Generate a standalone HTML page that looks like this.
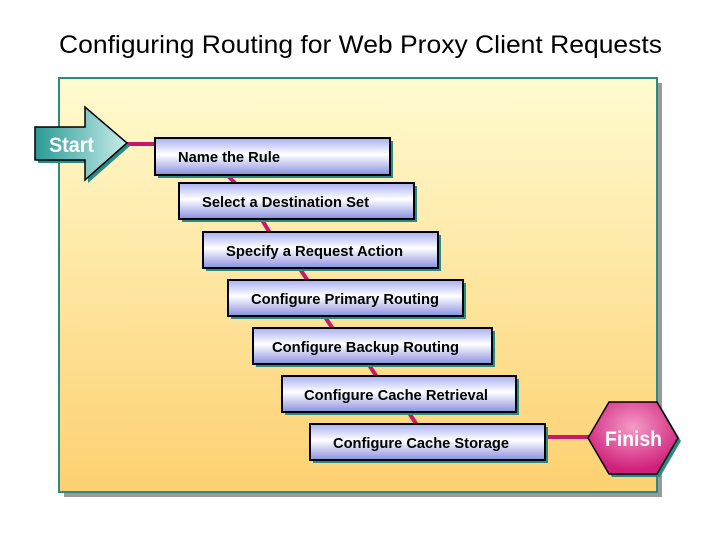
<!DOCTYPE html>
<html><head><style>body{margin:0;background:#fff}svg{display:block}</style></head><body>
<svg width="720" height="540" xmlns="http://www.w3.org/2000/svg" font-family="Liberation Sans, Arial, sans-serif">
<defs>
<linearGradient id="bg" x1="0" y1="0" x2="0" y2="1"><stop offset="0" stop-color="#fffbd0"/><stop offset="1" stop-color="#fdd070"/></linearGradient>
<linearGradient id="bx" x1="0" y1="0" x2="0" y2="1"><stop offset="0" stop-color="#a8aef0"/><stop offset="0.45" stop-color="#ffffff"/><stop offset="1" stop-color="#8890e0"/></linearGradient>
<linearGradient id="st" x1="0" y1="0" x2="1" y2="0"><stop offset="0" stop-color="#2a9a96"/><stop offset="1" stop-color="#c8ecea"/></linearGradient>
<radialGradient id="fn" cx="0.5" cy="0.35" r="0.6"><stop offset="0" stop-color="#f49cc8"/><stop offset="1" stop-color="#d0207a"/></radialGradient>
</defs>
<text x="59" y="53" font-size="25" fill="#000" textLength="603" lengthAdjust="spacingAndGlyphs">Configuring Routing for Web Proxy Client Requests</text>
<rect x="64" y="83" width="598" height="414" fill="#999"/>
<rect x="59" y="78" width="598" height="414" fill="url(#bg)" stroke="#2a8a86" stroke-width="2"/>
<g stroke="#c8186e" stroke-width="4">
<line x1="125" y1="144" x2="158" y2="144"/>
<line x1="228" y1="176" x2="236" y2="184"/>
<line x1="262" y1="220" x2="270" y2="233"/>
<line x1="300" y1="269" x2="308" y2="281"/>
<line x1="325" y1="317" x2="333" y2="329"/>
<line x1="369" y1="365" x2="377" y2="377"/>
<line x1="409" y1="413" x2="417" y2="425"/>
<line x1="545" y1="437" x2="590" y2="437"/>
</g>
<g>
<polygon points="38,130 88,130 88,110 130,146 88,183 88,163 38,163" fill="#2a8a86"/>
<polygon points="35,127 85,127 85,107 127,143 85,180 85,160 35,160" fill="url(#st)" stroke="#000" stroke-width="1.5"/>
<text x="49" y="152" font-size="21" font-weight="bold" fill="#fff" textLength="45" lengthAdjust="spacingAndGlyphs">Start</text>
</g>
<g font-size="15" font-weight="bold" fill="#000">
<rect x="158" y="141" width="235" height="37" fill="#2a8a86"/><rect x="155" y="138" width="235" height="37" fill="url(#bx)" stroke="#000" stroke-width="2"/>
<text x="178" y="162" textLength="102" lengthAdjust="spacingAndGlyphs">Name the Rule</text>
<rect x="182" y="186" width="235" height="36" fill="#2a8a86"/><rect x="179" y="183" width="235" height="36" fill="url(#bx)" stroke="#000" stroke-width="2"/>
<text x="202" y="207" textLength="167" lengthAdjust="spacingAndGlyphs">Select a Destination Set</text>
<rect x="206" y="235" width="235" height="36" fill="#2a8a86"/><rect x="203" y="232" width="235" height="36" fill="url(#bx)" stroke="#000" stroke-width="2"/>
<text x="226" y="256" textLength="177" lengthAdjust="spacingAndGlyphs">Specify a Request Action</text>
<rect x="231" y="283" width="235" height="36" fill="#2a8a86"/><rect x="228" y="280" width="235" height="36" fill="url(#bx)" stroke="#000" stroke-width="2"/>
<text x="251" y="304" textLength="188" lengthAdjust="spacingAndGlyphs">Configure Primary Routing</text>
<rect x="256" y="331" width="239" height="36" fill="#2a8a86"/><rect x="253" y="328" width="239" height="36" fill="url(#bx)" stroke="#000" stroke-width="2"/>
<text x="272" y="352" textLength="187" lengthAdjust="spacingAndGlyphs">Configure Backup Routing</text>
<rect x="285" y="379" width="234" height="36" fill="#2a8a86"/><rect x="282" y="376" width="234" height="36" fill="url(#bx)" stroke="#000" stroke-width="2"/>
<text x="304" y="400" textLength="184" lengthAdjust="spacingAndGlyphs">Configure Cache Retrieval</text>
<rect x="313" y="427" width="235" height="36" fill="#2a8a86"/><rect x="310" y="424" width="235" height="36" fill="url(#bx)" stroke="#000" stroke-width="2"/>
<text x="333" y="448" textLength="176" lengthAdjust="spacingAndGlyphs">Configure Cache Storage</text>
</g>
<polygon points="612,405 660,405 681,441 660,477 612,477 591,441" fill="#2a8a86"/>
<polygon points="609,402 657,402 678,438 657,474 609,474 588,438" fill="url(#fn)" stroke="#000" stroke-width="1.5"/>
<text x="605" y="446" font-size="21" font-weight="bold" fill="#fff" textLength="57" lengthAdjust="spacingAndGlyphs">Finish</text>
</svg>
</body></html>
